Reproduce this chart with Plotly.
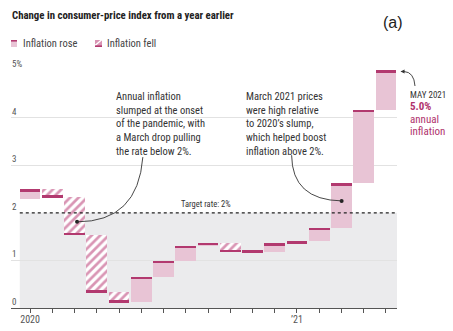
import plotly.graph_objects as go

# ---- data ----
months = ["Jan 2020", "Feb 2020", "Mar 2020", "Apr 2020", "May 2020", "Jun 2020",
          "Jul 2020", "Aug 2020", "Sep 2020", "Oct 2020", "Nov 2020", "Dec 2020",
          "Jan 2021", "Feb 2021", "Mar 2021", "Apr 2021", "May 2021"]
cpi_yoy = [2.49, 2.33, 1.54, 0.33, 0.12, 0.65, 0.99, 1.31, 1.37, 1.18, 1.17, 1.36,
           1.40, 1.68, 2.62, 4.16, 4.99]
dec_2019 = 2.29
tick_text = {0: "2020", 12: "\u201921"}
y_ticks = [0, 1, 2, 3, 4, 5]
target_rate = 2

prev = [dec_2019] + cpi_yoy[:-1]
idx = list(range(len(months)))

PINK = "#e8c4d5"
HATCH = "#d995b4"
DARK = "#b2396f"
MAG = "#b0336d"
TXT = "#333333"
FONT = "Liberation Sans Narrow, Roboto Condensed, Arial Narrow, sans-serif"

# layout geometry helpers (pixels -> paper)
W, H = 453, 331
ML, MR, MT, MB = 11, 56, 70, 23
PW, PH = W - ML - MR, H - MT - MB


def px(x):
    return (x - ML) / PW


def py(y):
    return (MT + PH - y) / PH


BW = 0.93
rose = [i for i in idx if cpi_yoy[i] >= prev[i]]
fell = [i for i in idx if cpi_yoy[i] < prev[i]]

fig = go.Figure()
fig.add_trace(go.Bar(
    x=rose, base=[prev[i] for i in rose], y=[cpi_yoy[i] - prev[i] for i in rose],
    width=BW, marker=dict(color=PINK, line=dict(width=0)), name="Inflation rose",
    showlegend=False, hoverinfo="skip"))
fig.add_trace(go.Bar(
    x=fell, base=[cpi_yoy[i] for i in fell], y=[prev[i] - cpi_yoy[i] for i in fell],
    width=BW, marker=dict(color="white", line=dict(width=0),
                          pattern=dict(shape="/", fgcolor=HATCH, bgcolor="white",
                                       size=6, solidity=0.45, fillmode="replace")),
    name="Inflation fell", showlegend=False, hoverinfo="skip"))
# current-value markers (thin dark bar at each month's value)
LT = 0.04
fig.add_trace(go.Bar(
    x=idx,
    base=[cpi_yoy[i] - LT if i in rose else cpi_yoy[i] for i in idx],
    y=[LT] * len(idx), width=BW, marker=dict(color=DARK, line=dict(width=0)),
    showlegend=False, hoverinfo="skip"))

# annotation dots
fig.add_trace(go.Scatter(x=[2.11, 14.01], y=[1.81, 2.25], mode="markers",
                         marker=dict(size=4, color="#222"), showlegend=False,
                         hoverinfo="skip"))

shapes = []
# shaded region below target
shapes.append(dict(type="rect", xref="x", yref="y", x0=-BW / 2, x1=16.5, y0=0,
                   y1=target_rate, fillcolor="#ebebed", line=dict(width=0),
                   layer="below"))
# hide part of the 4 gridline behind the notes
shapes.append(dict(type="line", xref="paper", yref="y", x0=px(100), x1=px(353),
                   y0=4, y1=4, line=dict(color="white", width=2), layer="between"))
# target line
shapes.append(dict(type="line", xref="x", yref="y", x0=-BW / 2, x1=16.5,
                   y0=target_rate, y1=target_rate,
                   line=dict(color="#222", width=1.2, dash="dot"), layer="above"))
# curved pointers
shapes.append(dict(type="path", xref="x", yref="y",
                   path="M 5.07,3.17 Q 4.85,1.81 2.11,1.81",
                   line=dict(color=TXT, width=0.9)))
shapes.append(dict(type="path", xref="x", yref="y",
                   path="M 11.76,3.21 Q 11.78,2.27 14.01,2.25",
                   line=dict(color=TXT, width=0.9)))
shapes.append(dict(type="path", xref="paper", yref="paper",
                   path=f"M {px(415)},{py(86)} Q {px(414)},{py(72)} {px(404)},{py(71.5)}",
                   line=dict(color=TXT, width=0.9)))
# legend icons
shapes.append(dict(type="rect", xref="paper", yref="paper", x0=px(11), x1=px(17),
                   y0=py(47), y1=py(40), fillcolor=PINK, line=dict(width=0)))
shapes.append(dict(type="line", xref="paper", yref="paper", x0=px(11), x1=px(17),
                   y0=py(40.8), y1=py(40.8), line=dict(color=DARK, width=1.6)))
shapes.append(dict(type="rect", xref="paper", yref="paper", x0=px(95), x1=px(102),
                   y0=py(47), y1=py(40), fillcolor=HATCH, line=dict(width=0)))
shapes.append(dict(type="line", xref="paper", yref="paper", x0=px(95), x1=px(102),
                   y0=py(45.5), y1=py(39.5), line=dict(color="white", width=1.4)))
shapes.append(dict(type="line", xref="paper", yref="paper", x0=px(95), x1=px(102),
                   y0=py(46.2), y1=py(46.2), line=dict(color=DARK, width=1.6)))

ann = []
ann.append(dict(xref="paper", yref="paper", x=px(10), y=py(16), xanchor="left",
                yanchor="middle", showarrow=False,
                text="<b>Change in consumer-price index from a year earlier</b>",
                font=dict(family=FONT, size=10.8, color="#222")))
ann.append(dict(xref="paper", yref="paper", x=px(392.5), y=py(22), xanchor="center",
                yanchor="middle", showarrow=False, text="(a)",
                font=dict(family="Liberation Sans, Arial, sans-serif", size=16,
                          color="#222")))
ann.append(dict(xref="paper", yref="paper", x=px(21), y=py(43.5), xanchor="left",
                yanchor="middle", showarrow=False, text="Inflation rose",
                font=dict(family=FONT, size=10.5, color="#444")))
ann.append(dict(xref="paper", yref="paper", x=px(105), y=py(43.5), xanchor="left",
                yanchor="middle", showarrow=False, text="Inflation fell",
                font=dict(family=FONT, size=10.5, color="#444")))
for v in y_ticks:
    ann.append(dict(xref="paper", yref="y", x=px(10), y=v, xanchor="left",
                    yanchor="middle", yshift=6, showarrow=False,
                    text=f"{v}%" if v == y_ticks[-1] else str(v),
                    font=dict(family=FONT, size=9, color="#555")))
ann.append(dict(xref="paper", yref="paper", x=px(114), y=py(88), xanchor="left",
                yanchor="top", align="left", showarrow=False,
                text="Annual inflation<br>slumped at the onset<br>of the pandemic, with"
                     "<br>a March drop pulling<br>the rate below 2%.",
                font=dict(family=FONT, size=10.5, color=TXT)))
ann.append(dict(xref="paper", yref="paper", x=px(244), y=py(88), xanchor="left",
                yanchor="top", align="left", showarrow=False,
                text="March 2021 prices<br>were high relative<br>to 2020\u2019s slump,"
                     "<br>which helped boost<br>inflation above 2%.",
                font=dict(family=FONT, size=10.5, color=TXT)))
ann.append(dict(xref="paper", yref="y", x=px(233), y=target_rate, xanchor="right",
                yanchor="bottom", yshift=2, showarrow=False,
                text=f"Target rate: {target_rate}%",
                font=dict(family=FONT, size=8.5, color=TXT)))
ann.append(dict(xref="paper", yref="paper", x=px(408), y=py(94.5), xanchor="left",
                yanchor="middle", showarrow=False, text="MAY 2021",
                font=dict(family=FONT, size=9, color=TXT)))
ann.append(dict(xref="paper", yref="paper", x=px(408), y=py(106.5), xanchor="left",
                yanchor="middle", showarrow=False, text=f"<b>{cpi_yoy[-1]:.1f}%</b>",
                font=dict(family=FONT, size=11, color=MAG)))
ann.append(dict(xref="paper", yref="paper", x=px(408), y=py(119), xanchor="left",
                yanchor="middle", showarrow=False, text="annual",
                font=dict(family=FONT, size=11, color=MAG)))
ann.append(dict(xref="paper", yref="paper", x=px(408), y=py(131.5), xanchor="left",
                yanchor="middle", showarrow=False, text="inflation",
                font=dict(family=FONT, size=11, color=MAG)))
# arrowhead for the May pointer
ann.append(dict(xref="paper", yref="paper", x=px(400.5), y=py(71.5), ax=5, ay=0,
                showarrow=True, arrowhead=2, arrowsize=0.9, arrowwidth=0.9,
                arrowcolor=TXT, text=""))

fig.update_layout(
    width=W, height=H, margin=dict(l=ML, r=MR, t=MT, b=MB, pad=0, autoexpand=False),
    paper_bgcolor="white", plot_bgcolor="rgba(0,0,0,0)",
    barmode="overlay", bargap=0, showlegend=False,
    shapes=shapes, annotations=ann,
    xaxis=dict(range=[-0.86, 16.5], tickvals=idx,
               ticktext=[tick_text.get(i, "") for i in idx],
               ticks="outside", ticklen=4, tickcolor="#555", tickwidth=1,
               showline=True, linecolor="#555", linewidth=1, showgrid=False,
               zeroline=False, tickfont=dict(family=FONT, size=10, color="#555"),
               ticklabelstandoff=-2,
               fixedrange=True, automargin=False),
    yaxis=dict(range=[0, 5], tickvals=[1, 3, 4, 5], showticklabels=False,
               showgrid=True, gridcolor="#e2e2e2", gridwidth=1, zeroline=False,
               showline=False, fixedrange=True, automargin=False),
)

fig.write_html("out.html", config={"displayModeBar": False})
